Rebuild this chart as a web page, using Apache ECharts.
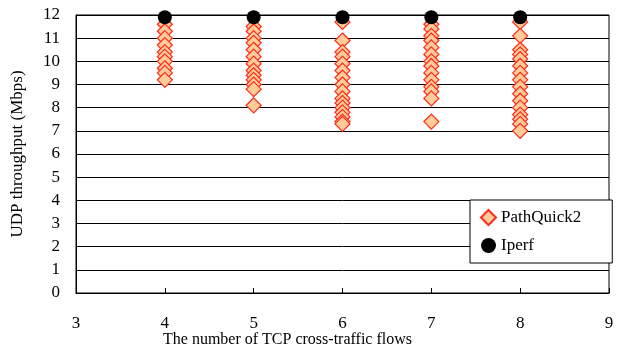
<!DOCTYPE html>
<html><head><meta charset="utf-8">
<script src="https://cdn.jsdelivr.net/npm/echarts@6/dist/echarts.min.js"></script>
<style>html,body{margin:0;padding:0;background:#fff}#c{width:626px;height:356px}</style>
</head><body><div id="c"></div>
<script>
const flows = [4, 5, 6, 7, 8];
const pq4 = [11.6, 11.3, 11.0, 10.7, 10.4, 10.2, 10.0, 9.7, 9.5, 9.2];
const pq5 = [11.5, 11.3, 11.0, 10.8, 10.5, 10.2, 9.9, 9.6, 9.4, 9.2, 9.0, 8.8, 8.1];
const pq6 = [11.7, 10.9, 10.4, 10.2, 9.9, 9.6, 9.3, 9.0, 8.7, 8.4, 8.2, 8.0, 7.8, 7.6, 7.4, 7.3];
const pq7 = [11.6, 11.4, 11.1, 10.9, 10.6, 10.3, 10.0, 9.8, 9.5, 9.2, 8.9, 8.7, 8.4, 7.4];
const pq8 = [11.7, 11.1, 10.5, 10.3, 10.1, 9.8, 9.5, 9.2, 8.9, 8.6, 8.3, 8.0, 7.7, 7.5, 7.3, 7.0];
const iperf = [11.9, 11.9, 11.9, 11.9, 11.9];
const yTicks = [0,1,2,3,4,5,6,7,8,9,10,11,12];

const pqCols = [pq4, pq5, pq6, pq7, pq8];
const pqData = [];
flows.forEach((f, i) => pqCols[i].forEach(v => pqData.push([f, v])));
const iperfData = flows.map((f, i) => [f, iperf[i]]);

const font = 'Liberation Serif';
const chart = echarts.init(document.getElementById('c'));
chart.setOption({
  animation: false,
  textStyle: {fontFamily: font},
  title: {
    text: 'The number of TCP cross-traffic flows', left: 163, top: 332, padding: 0,
    textStyle: {fontFamily: font, fontSize: 16, fontWeight: 'normal', color: '#000'}
  },
  grid: {left: 76, right: 17, top: 15, bottom: 63, show: true, borderColor: '#000', borderWidth: 1},
  legend: {
    left: 470, top: 200, orient: 'vertical', itemGap: 11,
    borderColor: '#000', borderWidth: 1, padding: [9, 31, 9, 10],
    backgroundColor: '#fff',
    textStyle: {fontFamily: font, fontSize: 17, color: '#000'},
    itemWidth: 15, itemHeight: 15,
    data: [{name: 'PathQuick2', icon: 'diamond'}, {name: 'Iperf', icon: 'circle'}]
  },
  xAxis: {
    type: 'value', min: 3, max: 9, interval: 1,
    axisLine: {lineStyle: {color: '#000'}},
    axisTick: {inside: true, length: 5, lineStyle: {color: '#000'}},
    axisLabel: {fontFamily: font, fontSize: 17, color: '#000', margin: 22},
    splitLine: {show: false}
  },
  yAxis: {
    type: 'value', min: 0, max: 12, interval: 1,
    name: 'UDP throughput (Mbps)', nameLocation: 'middle', nameGap: 50,
    nameTextStyle: {fontFamily: font, fontSize: 17, color: '#000'},
    axisLine: {show: true, lineStyle: {color: '#000'}},
    axisTick: {show: false},
    axisLabel: {fontFamily: font, fontSize: 17, color: '#000', margin: 16,
      formatter: v => yTicks.includes(v) ? String(v) : ''},
    splitLine: {show: true, lineStyle: {color: '#000', width: 1}}
  },
  series: [
    {name: 'PathQuick2', type: 'scatter', symbol: 'diamond', symbolSize: 15,
     itemStyle: {color: '#FFCC99', borderColor: '#FF2A1A', borderWidth: 1.2, opacity: 1},
     data: pqData, z: 2},
    {name: 'Iperf', type: 'scatter', symbol: 'circle', symbolSize: 14,
     itemStyle: {color: '#000', opacity: 1}, data: iperfData, z: 3}
  ]
});
</script></body></html>
